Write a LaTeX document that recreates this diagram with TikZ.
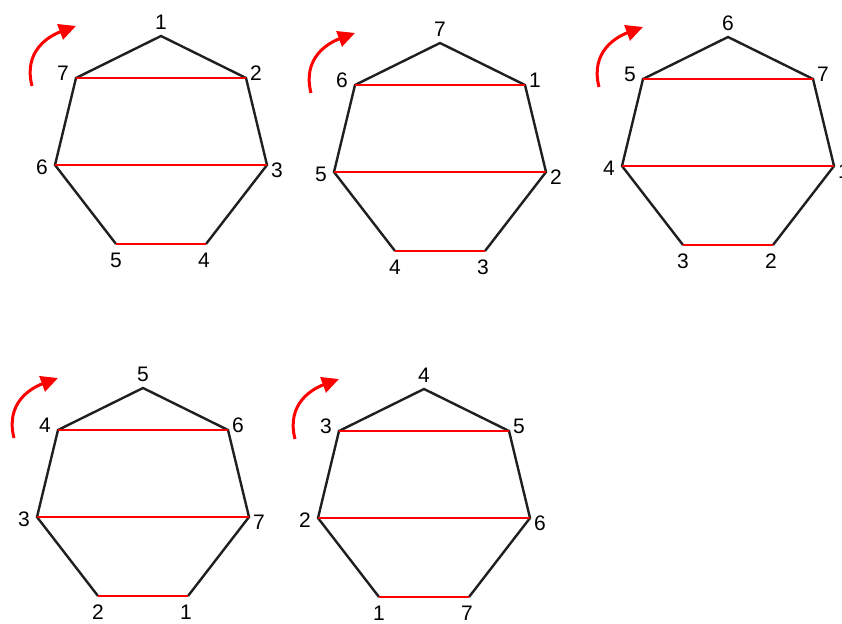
\documentclass[tikz,border=0pt]{standalone}
\usepackage{fontspec}
\setmainfont{Liberation Sans}
\usetikzlibrary{arrows.meta}
\tikzset{
  edge/.style={line width=2.4pt, black!88, line join=miter},
  chord/.style={line width=2pt, red},
  turn/.style={line width=3pt, red, -{Triangle[length=17pt,width=16pt]}},
  num/.style={font=\fontsize{21}{21}\selectfont, inner sep=0pt}
}
\newcommand{\hept}[9]{%
  \begin{scope}[shift={#2}]
    \coordinate (#1a) at (0,0);
    \coordinate (#1b) at (85,42);
    \coordinate (#1c) at (106,129);
    \coordinate (#1d) at (45,208);
    \coordinate (#1e) at (-45,208);
    \coordinate (#1f) at (-106,129);
    \coordinate (#1g) at (-85,42);
    \coordinate (#1s) at (-129,50);
    \coordinate (#1t) at (-85,-10);
    \draw[edge] (#1e) -- (#1f) -- (#1g) -- (#1a) -- (#1b) -- (#1c) -- (#1d);
    \draw[chord] (#1g) -- (#1b);
    \draw[chord] (#1f) -- (#1c);
    \draw[chord] (#1e) -- (#1d);
    \draw[turn] (#1s) .. controls (-138,15) and (-112,0) .. (#1t);
    \node[num] (#1la) at (0,-14) {#3};
    \node[num] (#1lb) at (95,37) {#4};
    \node[num] (#1lc) at (116,134) {#5};
    \node[num] (#1ld) at (43,224) {#6};
    \node[num] (#1le) at (-45,224) {#7};
    \node[num] (#1lf) at (-119,131) {#8};
    \node[num] (#1lg) at (-98,37) {#9};
  \end{scope}}
\begin{document}
\begin{tikzpicture}[x=1pt,y=-1pt]
  \fill[white] (0,0) rectangle (842,623);
  \clip (0,0) rectangle (842,623);
  \hept{p}{(161,36)}{1}{2}{3}{4}{5}{6}{7}
  \hept{q}{(440,43)}{7}{1}{2}{3}{4}{5}{6}
  \hept{r}{(728,37)}{6}{7}{1}{2}{3}{4}{5}
  \hept{s}{(143,388)}{5}{6}{7}{1}{2}{3}{4}
  \hept{t}{(424,389)}{4}{5}{6}{7}{1}{2}{3}
\end{tikzpicture}
\end{document}
